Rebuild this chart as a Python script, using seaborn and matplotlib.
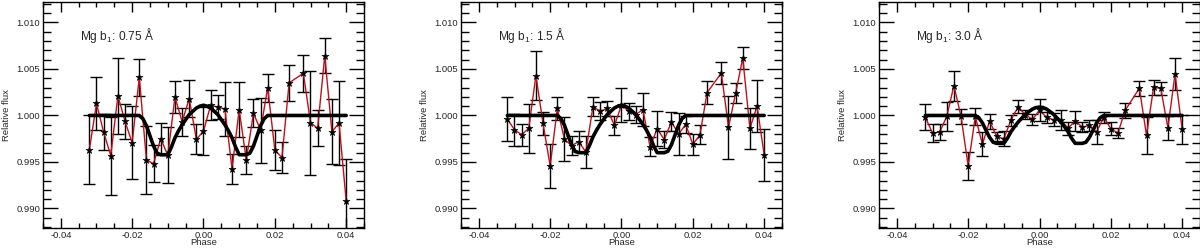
import numpy as np
import pandas as pd
import matplotlib
matplotlib.use("Agg")
import matplotlib.pyplot as plt
import seaborn as sns
from matplotlib.ticker import MultipleLocator, FormatStrFormatter

# ---------------- data ----------------
phase = [-0.032, -0.030, -0.028, -0.026, -0.024, -0.022, -0.020, -0.018, -0.016, -0.014,
         -0.012, -0.010, -0.008, -0.006, -0.004, -0.002, 0.000, 0.002, 0.004, 0.006,
         0.008, 0.010, 0.012, 0.014, 0.016, 0.018, 0.020, 0.022, 0.024, 0.028,
         0.030, 0.032, 0.034, 0.036, 0.038, 0.040]

flux_075 = [0.99632, 1.00129, 0.99821, 0.99568, 1.00211, 0.99936, 0.99707, 1.00410, 0.99521, 0.99482,
            0.99750, 0.99571, 1.00200, 0.99932, 1.00182, 0.99743, 0.99832, 1.00110, 1.00090, 1.00070,
            0.99425, 1.00064, 0.99521, 1.00025, 0.99843, 1.00300, 0.99629, 0.99546, 1.00350, 1.00454,
            0.99921, 0.99864, 1.00643, 0.99825, 0.99918, 0.99082]
err_075 = [0.0037, 0.0028, 0.0019, 0.0042, 0.0041, 0.0019, 0.0039, 0.0020, 0.0037, 0.0020,
           0.0017, 0.0030, 0.0017, 0.0015, 0.0020, 0.0016, 0.0026, 0.0016, 0.0013, 0.0029,
           0.0016, 0.0030, 0.0015, 0.0015, 0.0035, 0.0015, 0.0022, 0.0017, 0.0019, 0.0020,
           0.0056, 0.0019, 0.0019, 0.0035, 0.0045, 0.0045]

flux_15 = [0.99961, 0.99846, 0.99793, 0.99861, 1.00429, 0.99914, 0.99457, 1.00075, 0.99746, 0.99675,
           0.99718, 0.99607, 1.00096, 1.00046, 1.00075, 0.99893, 1.00110, 1.00046, 1.00010, 1.00064,
           0.99664, 0.99857, 0.99740, 0.99932, 0.99800, 0.99904, 0.99689, 0.99793, 1.00246, 1.00457,
           0.99871, 1.00239, 1.00618, 0.99861, 1.00100, 0.99579]
err_15 = [0.0024, 0.0017, 0.0012, 0.0026, 0.0026, 0.0012, 0.0024, 0.0012, 0.0024, 0.0010,
          0.0011, 0.0017, 0.0010, 0.0010, 0.0008, 0.0010, 0.0018, 0.0009, 0.0009, 0.0018,
          0.0010, 0.0019, 0.0009, 0.0010, 0.0023, 0.0009, 0.0011, 0.0010, 0.0012, 0.0012,
          0.0034, 0.0011, 0.0012, 0.0022, 0.0028, 0.0028]

flux_30 = [0.99979, 0.99811, 0.99821, 0.99990, 1.00320, 0.99990, 0.99457, 0.99990, 0.99689, 0.99939,
           0.99775, 0.99750, 0.99950, 1.00093, 1.00010, 0.99957, 1.00057, 0.99979, 0.99954, 0.99950,
           0.99864, 0.99939, 0.99875, 0.99893, 0.99821, 0.99982, 0.99857, 0.99811, 1.00054, 1.00293,
           0.99786, 1.00304, 1.00290, 0.99868, 1.00446, 0.99850]
err_30 = [0.0014, 0.0010, 0.0009, 0.0016, 0.0016, 0.0008, 0.0015, 0.0009, 0.0013, 0.0008,
          0.0005, 0.0008, 0.0006, 0.0007, 0.0005, 0.0006, 0.0012, 0.0006, 0.0007, 0.0011,
          0.0007, 0.0011, 0.0005, 0.0006, 0.0013, 0.0006, 0.0007, 0.0005, 0.0008, 0.0008,
          0.0020, 0.0008, 0.0007, 0.0013, 0.0017, 0.0016]

model_phase = [-0.032, -0.018, -0.017, -0.016, -0.015, -0.014, -0.013, -0.012, -0.010, -0.009,
               -0.008, -0.007, -0.006, -0.005, -0.004, -0.003, -0.002, -0.001, 0.000, 0.001,
               0.002, 0.003, 0.004, 0.005, 0.006, 0.007, 0.008, 0.009, 0.010, 0.012,
               0.013, 0.014, 0.015, 0.016, 0.017, 0.018, 0.040]

model_075 = [1.0000, 1.0000, 0.99965, 0.99890, 0.99780, 0.99671, 0.99595, 0.99578, 0.99578, 0.99660,
             0.99760, 0.99835, 0.99900, 0.99955, 1.00010, 1.00045, 1.00080, 1.00100, 1.00110, 1.00100,
             1.00080, 1.00045, 1.00010, 0.99955, 0.99900, 0.99835, 0.99760, 0.99660, 0.99578, 0.99578,
             0.99595, 0.99671, 0.99780, 0.99890, 0.99965, 1.0000, 1.0000]
model_15 = [1.0000, 1.0000, 0.99967, 0.99895, 0.99790, 0.99685, 0.99615, 0.99600, 0.99600, 0.99675,
            0.99770, 0.99842, 0.99905, 0.99958, 1.00010, 1.00045, 1.00080, 1.00100, 1.00110, 1.00100,
            1.00080, 1.00045, 1.00010, 0.99958, 0.99905, 0.99842, 0.99770, 0.99675, 0.99600, 0.99600,
            0.99615, 0.99685, 0.99790, 0.99895, 0.99967, 1.0000, 1.0000]
model_30 = [1.0000, 1.0000, 0.99975, 0.99920, 0.99840, 0.99765, 0.99712, 0.99700, 0.99700, 0.99755,
            0.99825, 0.99880, 0.99928, 0.99970, 1.00010, 1.00040, 1.00068, 1.00085, 1.00090, 1.00085,
            1.00068, 1.00040, 1.00010, 0.99970, 0.99928, 0.99880, 0.99825, 0.99755, 0.99700, 0.99700,
            0.99712, 0.99765, 0.99840, 0.99920, 0.99975, 1.0000, 1.0000]

labels = ["0.75 Å", "1.5 Å", "3.0 Å"]
fluxes = [flux_075, flux_15, flux_30]
errors = [err_075, err_15, err_30]
models = [model_075, model_15, model_30]

# ---------------- style ----------------
sns.set_style("ticks")
plt.rcParams['font.family'] = ['Liberation Sans', 'DejaVu Sans']
plt.rcParams['axes.unicode_minus'] = False
plt.rcParams['mathtext.fontset'] = 'custom'
plt.rcParams['mathtext.rm'] = 'Liberation Sans'

fig = plt.figure(figsize=(12, 2.49), dpi=100)
lefts = [43, 461, 879]
width_px = 321
bottom_px, top_px = 228, 2
H = 249.0
FS = 6.8

for i in range(3):
    ax = fig.add_axes([lefts[i] / 1200, 1 - bottom_px / H, width_px / 1200, (bottom_px - top_px) / H])
    df = pd.DataFrame({"phase": phase, "flux": fluxes[i], "err": errors[i]})
    dm = pd.DataFrame({"phase": model_phase, "flux": models[i]})

    ax.errorbar(df["phase"], df["flux"], yerr=df["err"], fmt="none", ecolor="black",
                elinewidth=1.0, capsize=4.3, capthick=1.0, zorder=1)
    sns.lineplot(data=df, x="phase", y="flux", ax=ax, color="#c0101c", linewidth=1.0,
                 estimator=None, sort=False, zorder=2)
    sns.scatterplot(data=df, x="phase", y="flux", ax=ax, marker="*", s=28, color="black",
                    edgecolor="black", linewidth=0.4, zorder=3)
    sns.lineplot(data=dm, x="phase", y="flux", ax=ax, color="black", linewidth=2.6,
                 estimator=None, sort=False, zorder=4)

    ax.set_xlim(-0.045, 0.045)
    ax.set_ylim(0.9879, 1.0122)
    ax.xaxis.set_major_locator(MultipleLocator(0.02))
    ax.xaxis.set_minor_locator(MultipleLocator(0.005))
    ax.yaxis.set_major_locator(MultipleLocator(0.005))
    ax.yaxis.set_minor_locator(MultipleLocator(0.001))
    ax.xaxis.set_major_formatter(FormatStrFormatter('%.2f'))
    ax.yaxis.set_major_formatter(FormatStrFormatter('%.3f'))
    ax.tick_params(axis='both', which='both', direction='in', top=True, right=True,
                   width=1.0, color='black', labelsize=FS)
    ax.tick_params(axis='x', which='major', length=7.2, pad=2)
    ax.tick_params(axis='x', which='minor', length=3.6)
    ax.tick_params(axis='y', which='major', length=10.8, pad=2)
    ax.tick_params(axis='y', which='minor', length=5.8)
    for s in ax.spines.values():
        s.set_linewidth(1.0)
        s.set_color('black')
    ax.set_xlabel("Phase", fontsize=FS, labelpad=-1)
    ax.set_ylabel("Relative flux", fontsize=FS, labelpad=4)
    ax.text(-0.0347, 1.00864, r"Mg b$_\mathregular{1}$: " + labels[i], fontsize=8.6,
            va='center', ha='left')

fig.savefig("out.png", dpi=100)
